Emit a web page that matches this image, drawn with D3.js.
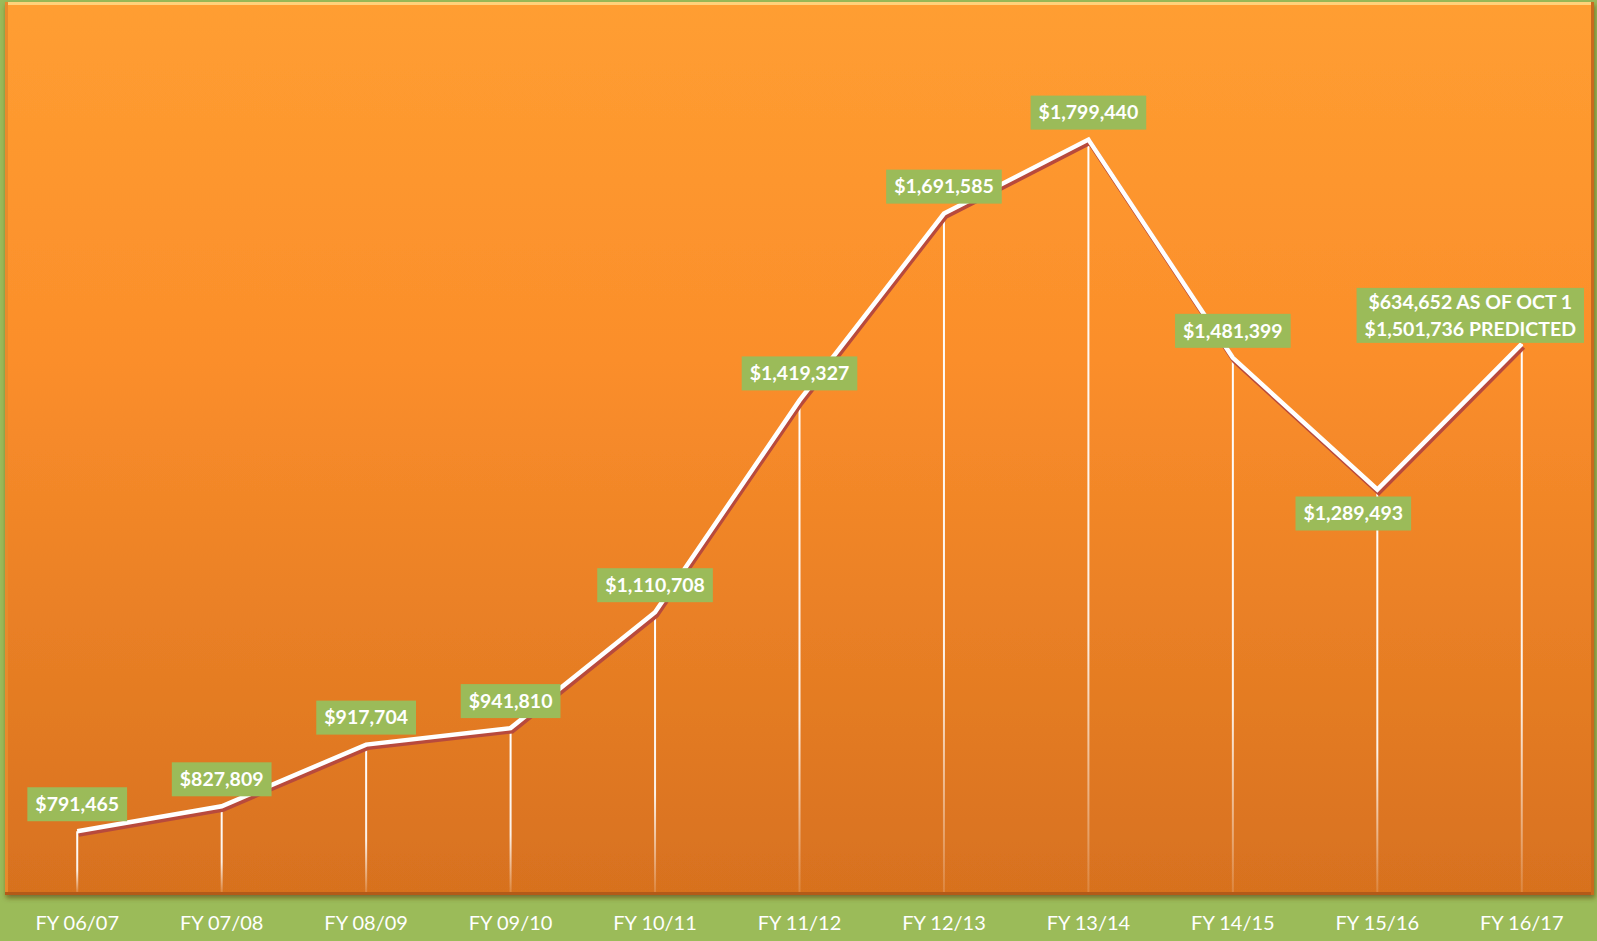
<!DOCTYPE html>
<meta charset="utf-8">
<style>
body { margin: 0; background: #9bbb59; }
svg { display: block; }
.axis text { font: 20px Lato, "Open Sans", sans-serif; fill: #fff; }
.lbl text { font: bold 19.5px Lato, "Open Sans", sans-serif; fill: #fff; }
</style>
<body>
<script src="https://d3js.org/d3.v7.js"></script>
<script>

var categories = ["FY 06/07", "FY 07/08", "FY 08/09", "FY 09/10", "FY 10/11", "FY 11/12",
                  "FY 12/13", "FY 13/14", "FY 14/15", "FY 15/16", "FY 16/17"];

var values = [791465, 827809, 917704, 941810, 1110708, 1419327,
              1691585, 1799440, 1481399, 1289493, 1501736];

var labelLines = [
  ["$791,465"], ["$827,809"], ["$917,704"], ["$941,810"], ["$1,110,708"], ["$1,419,327"],
  ["$1,691,585"], ["$1,799,440"], ["$1,481,399"], ["$1,289,493"],
  ["$634,652 AS OF OCT 1", "$1,501,736 PREDICTED"]
];

var yDomain = [700000, 2000000];

var width = 1597, height = 941;
var plot = {left: 5, top: 2, right: 1594, bottom: 895};

var svg = d3.select("body").append("svg")
    .attr("width", width)
    .attr("height", height);

var defs = svg.append("defs");

var bg = defs.append("linearGradient")
    .attr("id", "bg").attr("x1", 0).attr("y1", 0).attr("x2", 0).attr("y2", 1);
bg.append("stop").attr("offset", "0%").attr("stop-color", "#ff9e31");
bg.append("stop").attr("offset", "40%").attr("stop-color", "#fb8e2b");
bg.append("stop").attr("offset", "100%").attr("stop-color", "#d7711f");

var drop = defs.append("linearGradient")
    .attr("id", "drop").attr("x1", 0).attr("y1", 0).attr("x2", 0).attr("y2", 1);
drop.append("stop").attr("offset", "0%").attr("stop-color", "#fff").attr("stop-opacity", 1);
drop.append("stop").attr("offset", "65%").attr("stop-color", "#fff").attr("stop-opacity", 0.9);
drop.append("stop").attr("offset", "100%").attr("stop-color", "#fff").attr("stop-opacity", 0.15);

var shadowF = defs.append("filter").attr("id", "pshadow")
    .attr("x", "-2%").attr("y", "-2%").attr("width", "104%").attr("height", "106%");
shadowF.append("feGaussianBlur").attr("in", "SourceAlpha").attr("stdDeviation", 2.5);
shadowF.append("feOffset").attr("dx", 1).attr("dy", 3).attr("result", "b");
shadowF.append("feFlood").attr("flood-color", "#5a3a10").attr("flood-opacity", 0.6);
shadowF.append("feComposite").attr("in2", "b").attr("operator", "in");
var mg = shadowF.append("feMerge");
mg.append("feMergeNode");
mg.append("feMergeNode").attr("in", "SourceGraphic");

// plot area with bevel
svg.append("rect")
    .attr("x", plot.left).attr("y", plot.top)
    .attr("width", plot.right - plot.left).attr("height", plot.bottom - plot.top)
    .attr("fill", "url(#bg)")
    .attr("filter", "url(#pshadow)");

svg.append("line")
    .attr("x1", plot.left).attr("x2", plot.right)
    .attr("y1", plot.top + 1.5).attr("y2", plot.top + 1.5)
    .attr("stroke", "#ffd27a").attr("stroke-width", 3);
svg.append("line")
    .attr("x1", plot.left + 1.5).attr("x2", plot.left + 1.5)
    .attr("y1", plot.top).attr("y2", plot.bottom)
    .attr("stroke", "#e88a2c").attr("stroke-width", 3);
svg.append("line")
    .attr("x1", plot.left).attr("x2", plot.right)
    .attr("y1", plot.bottom - 1.5).attr("y2", plot.bottom - 1.5)
    .attr("stroke", "#b35a18").attr("stroke-width", 3);
svg.append("line")
    .attr("x1", plot.right - 1.5).attr("x2", plot.right - 1.5)
    .attr("y1", plot.top).attr("y2", plot.bottom)
    .attr("stroke", "#c86a1e").attr("stroke-width", 3);

var x = d3.scaleBand()
    .domain(categories)
    .range([plot.left, plot.right]);

var y = d3.scaleLinear()
    .domain(yDomain)
    .range([plot.bottom - 1, plot.top]);

var data = categories.map((c, i) => ({cat: c, value: values[i], lines: labelLines[i], i: i}));
var cx = d => x(d.cat) + x.bandwidth() / 2;

// drop lines
svg.append("g")
  .selectAll("rect")
  .data(data)
  .join("rect")
    .attr("x", d => cx(d) - 1)
    .attr("y", d => y(d.value))
    .attr("width", 2)
    .attr("height", d => plot.bottom - 3 - y(d.value))
    .attr("fill", "url(#drop)");

var line = d3.line()
    .x(cx)
    .y(d => y(d.value));

svg.append("path")
    .datum(data)
    .attr("d", line)
    .attr("fill", "none")
    .attr("stroke", "#b84a3c")
    .attr("stroke-width", 5)
    .attr("stroke-linejoin", "miter")
    .attr("transform", "translate(1.5,3)");

svg.append("path")
    .datum(data)
    .attr("d", line)
    .attr("fill", "none")
    .attr("stroke", "#fff")
    .attr("stroke-width", 4.5)
    .attr("stroke-linejoin", "miter");

// x axis
var xAxis = d3.axisBottom(x).tickSize(0).tickPadding(21);
svg.append("g")
    .attr("class", "axis")
    .attr("transform", `translate(0, ${plot.bottom})`)
    .call(xAxis)
    .call(g => g.select(".domain").remove());

// data labels
var lineH = 27, padX = 8, boxH1 = 34;
var lbl = svg.append("g").attr("class", "lbl")
  .selectAll("g")
  .data(data)
  .join("g");

lbl.each(function(d) {
  var g = d3.select(this);
  var rect = g.append("rect").attr("fill", "#9bbb59");
  var texts = g.selectAll("text")
    .data(d.lines)
    .join("text")
      .attr("text-anchor", "middle")
      .attr("dy", "0.35em")
      .text(t => t);
  var w = d3.max(texts.nodes(), n => n.getComputedTextLength()) + padX * 2;
  var n = d.lines.length;
  var h = boxH1 + (n - 1) * lineH - (n > 1 ? 6 : 0);
  var px = cx(d), py = y(d.value);
  var centerX = px, centerY;
  if (n > 1) {
    centerX = Math.min(px, plot.right - 10 - w / 2);
    centerY = py - h / 2 - 1;
  } else if (d.i === 9) {
    centerX = px - 24;
    centerY = py + 24;
  } else {
    centerY = py - 27;
  }
  rect.attr("x", centerX - w / 2).attr("y", centerY - h / 2)
      .attr("width", w).attr("height", h);
  texts.attr("x", centerX)
       .attr("y", (t, k) => centerY + (k - (n - 1) / 2) * lineH);
});

</script>
